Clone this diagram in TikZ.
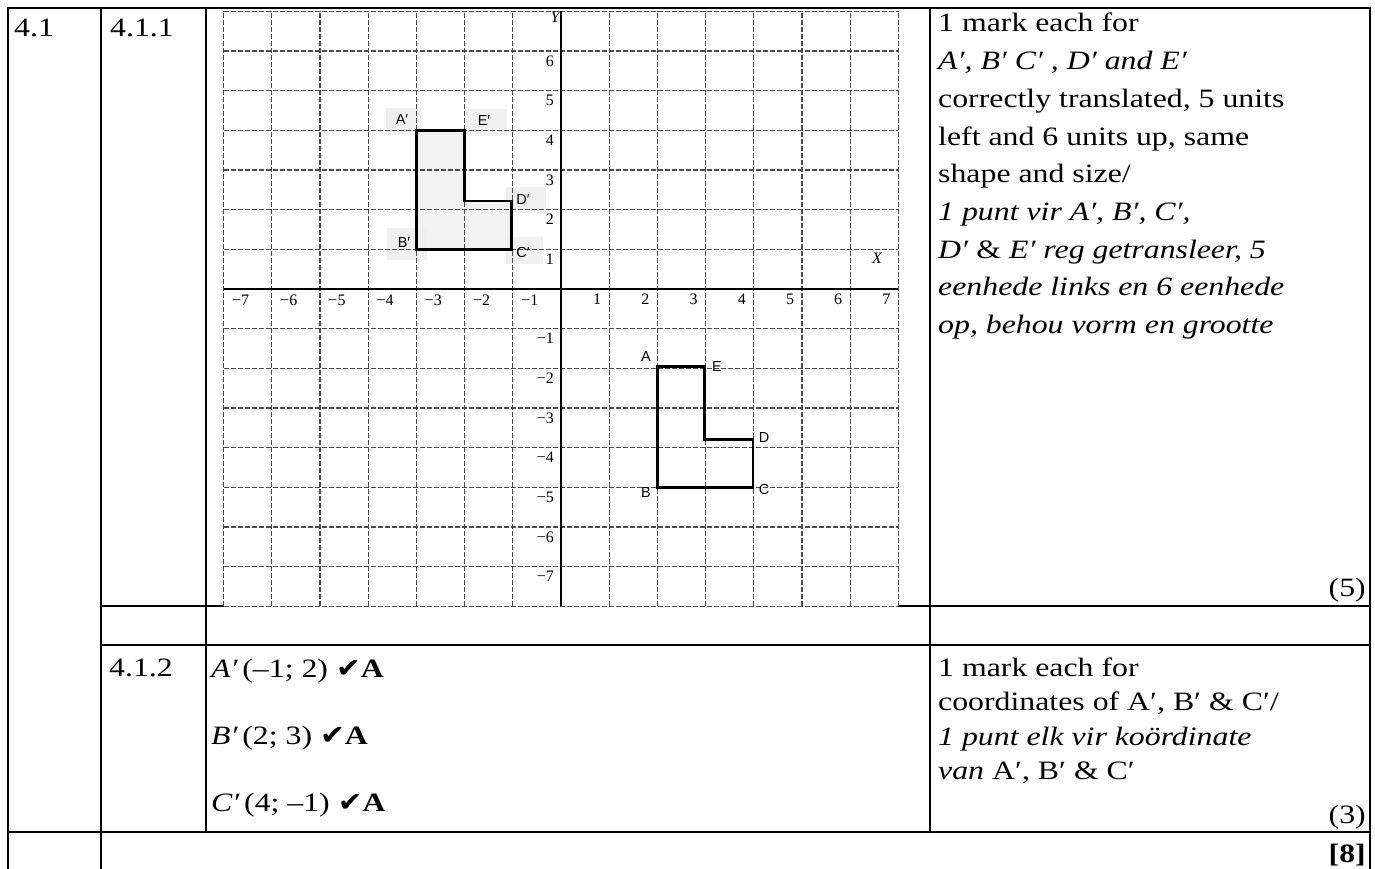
\documentclass[tikz,border=0pt]{standalone}
\usepackage{fontspec}
\setmainfont{Liberation Serif}[FakeStretch=1.2]
\newfontfamily\symfont{DejaVu Sans}[FakeStretch=1.1]
\newfontfamily\lblfont{Liberation Sans}
\newfontfamily\axfont{Liberation Serif}
\begin{document}
\begin{tikzpicture}[x=1pt,y=-1pt,
  tline/.style={line width=2.6pt,line cap=rect},
  gline/.style={line width=1.1pt,black!70,dash pattern=on 5pt off 2pt},
  axline/.style={line width=2.8pt},
  poly/.style={line width=2.6pt,line join=miter},
  lbox/.style={fill=black!6},
  vlab/.style={font=\lblfont\fontsize{14.5}{16}\selectfont,inner sep=0},
  num/.style={font=\axfont\fontsize{16}{18}\selectfont,inner sep=0},
  body/.style={font=\fontsize{26.5}{32}\selectfont,inner sep=0,anchor=base west},
  bodyr/.style={font=\fontsize{26.5}{32}\selectfont,inner sep=0,anchor=base east}]
\useasboundingbox (0,0) rectangle (1375,869);
\fill[white] (0,0) rectangle (1375,869);
% table lines
\draw[tline] (8,8) -- (1370,8);
\draw[tline] (8,8) -- (8,875);
\draw[tline] (101,8) -- (101,875);
\draw[tline] (206,8) -- (206,832);
\draw[tline] (930,8) -- (930,832);
\draw[tline] (1370,8) -- (1370,875);
\draw[tline] (101,606) -- (1370,606);
\draw[tline] (101,645) -- (1370,645);
\draw[tline] (8,832) -- (1370,832);
% grid picture
\begin{scope}[x=48.2pt,y=39.67pt,shift={(561pt,-289pt)}]
  \fill[white] (-7,-8.05) rectangle (7,7.05);
  \fill[black!5] (-3,4) -- (-2,4) -- (-2,2.22) -- (-1.03,2.22) -- (-1.03,1) -- (-3,1) -- cycle;
\end{scope}
\fill[lbox] (386,108) rectangle (422,135);
\fill[lbox] (466,109) rectangle (507,136);
\fill[lbox] (506,187) rectangle (546,213);
\fill[lbox] (387,228) rectangle (427,260);
\fill[lbox] (506,237) rectangle (543,264);
\begin{scope}[x=48.2pt,y=39.67pt,shift={(561pt,-289pt)}]
  \foreach \i in {-7,...,7} \draw[gline] (\i,-8) -- (\i,7);
  \foreach \j in {-8,...,7} \draw[gline] (-7,\j) -- (7,\j);
  \draw[axline] (-7,0) -- (7,0);
  \draw[axline] (0,-8) -- (0,7);
  \draw[poly] (-3,4) -- (-2,4) -- (-2,2.22) -- (-1.03,2.22) -- (-1.03,1) -- (-3,1) -- cycle;
  \draw[poly] (2,-1.96) -- (2.98,-1.96) -- (2.98,-3.79) -- (3.98,-3.79) -- (3.98,-5) -- (2,-5) -- cycle;
\end{scope}
% axis numbers
\foreach \k in {1,...,7}{
  \node[num] (xm\k) at ({561-48.2*\k+17},300) {−\k};
  \node[num] (xp\k) at ({561+48.2*\k-12},299) {\k};
  \node[num,anchor=east] (ym\k) at (554,{289+39.67*\k+10}) {−\k};
}
\foreach \k in {1,...,6}{
  \node[num,anchor=east] (yp\k) at (554,{289-39.67*\k+10}) {\k};
}
\node[num,font=\axfont\itshape\fontsize{16}{18}\selectfont] (ylab) at (555,17) {Y};
\node[num,font=\axfont\itshape\fontsize{16}{18}\selectfont] (xlab) at (877,258) {X};
% vertex labels
\node[vlab] (lA1) at (402,120) {A′};
\node[vlab] (lE1) at (484,121) {E′};
\node[vlab] (lD1) at (523,200) {D′};
\node[vlab] (lB1) at (404,243) {B′};
\node[vlab] (lC1) at (523,253) {C′};
\node[vlab] (lA) at (646,357) {A};
\node[vlab] (lE) at (717,367) {E};
\node[vlab] (lD) at (764,438) {D};
\node[vlab] (lC) at (764,490) {C};
\node[vlab] (lB) at (646,493) {B};
% question numbers
\node[body] (q41) at (14,37) {4.1};
\node[body] (q411) at (110,37) {4.1.1};
\node[body] (q412) at (109,676) {4.1.2};
% memo text, first part
\node[body] (m1) at (938,32) {1 mark each for};
\node[body] (m2) at (938,69.7) {\textit{A′, B′ C′ , D′ and E′}};
\node[body] (m3) at (938,107.4) {correctly translated, 5 units};
\node[body] (m4) at (938,145.1) {left and 6 units up, same};
\node[body] (m5) at (938,182.8) {shape and size/};
\node[body] (m6) at (938,220.5) {\textit{1 punt vir A′, B′, C′,}};
\node[body] (m7) at (938,258.2) {\textit{D′} \& \textit{E′ reg getransleer, 5}};
\node[body] (m8) at (938,295.9) {\textit{eenhede links en 6 eenhede}};
\node[body] (m9) at (938,333.6) {\textit{op, behou vorm en grootte}};
\node[bodyr] (mk5) at (1366,596) {(5)};
% answers 4.1.2
\node[body] (a1) at (211,677) {\textit{A′}\,(–1; 2) {\symfont\fontsize{27}{27}\selectfont ✔}\textbf{A}};
\node[body] (a2) at (211,744) {\textit{B′}\,(2; 3) {\symfont\fontsize{27}{27}\selectfont ✔}\textbf{A}};
\node[body] (a3) at (211,811) {\textit{C′}\,(4; –1) {\symfont\fontsize{27}{27}\selectfont ✔}\textbf{A}};
% memo text, second part
\node[body] (n1) at (938,676) {1 mark each for};
\node[body] (n2) at (938,710.5) {coordinates of A′, B′ \& C′/};
\node[body] (n3) at (938,745) {\textit{1 punt elk vir koördinate}};
\node[body] (n4) at (938,779.5) {\textit{van} A′, B′ \& C′};
\node[bodyr] (mk3) at (1366,823) {(3)};
\node[bodyr] (mk8) at (1366,862) {\textbf{[8]}};
\end{tikzpicture}
\end{document}
